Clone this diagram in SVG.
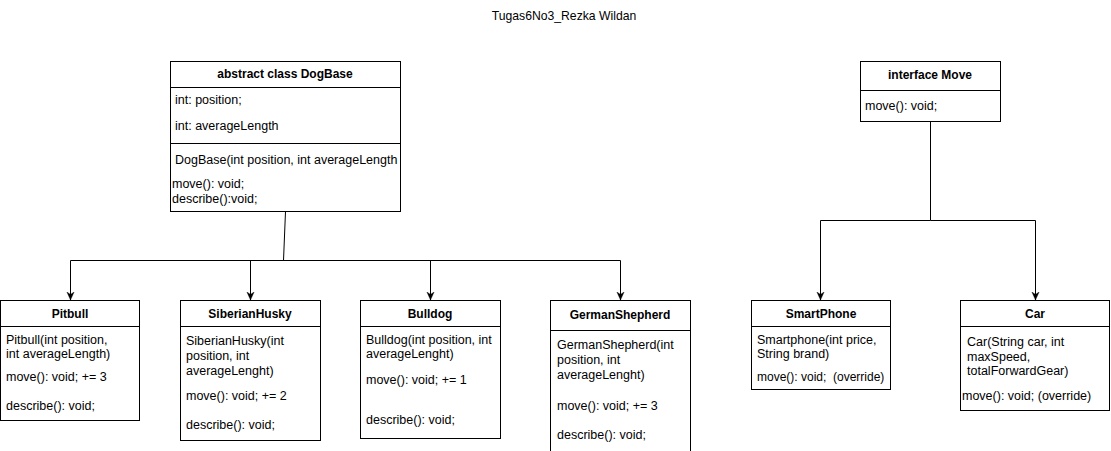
<svg xmlns="http://www.w3.org/2000/svg" width="1111" height="451" viewBox="0 0 1111 451">
<style>
  .box{fill:#fff;stroke:#000;stroke-width:1}
  .ln{stroke:#000;stroke-width:1;fill:none}
  text{font-family:"Liberation Sans",Arial,Helvetica,sans-serif;font-size:12.5px;fill:#000;white-space:pre}
  .t{font-weight:bold;text-anchor:middle;font-size:12px}
  .hd{font-size:12.2px}
  .edge{stroke:#000;stroke-width:1;fill:none;marker-end:url(#arr)}
</style>
<defs>
  <marker id="arr" viewBox="0 0 10 10" refX="10" refY="5" markerWidth="8" markerHeight="9" markerUnits="userSpaceOnUse" orient="auto">
    <path d="M0,0.5 L10,5 L0,9.5 L3,5 z" fill="#000" stroke="#000" stroke-width="0.5"/>
  </marker>
</defs>
<rect width="1111" height="451" fill="#fff"/>
<text class="hd" x="564" y="20" text-anchor="middle">Tugas6No3_Rezka Wildan</text>

<g id="connectors">
  <path class="ln" d="M285.5,211.5 L283.5,260.5"/>
  <path class="edge" d="M283.5,260.5 L70.5,260.5 L70.5,300"/>
  <path class="edge" d="M283.5,260.5 L250.5,260.5 L250.5,300"/>
  <path class="edge" d="M283.5,260.5 L430.5,260.5 L430.5,300"/>
  <path class="edge" d="M283.5,260.5 L620.5,260.5 L620.5,300"/>
  <path class="edge" d="M930.5,121 L930.5,220.5 L820.5,220.5 L820.5,300"/>
  <path class="edge" d="M930.5,220.5 L1035.5,220.5 L1035.5,300"/>
</g>

<g id="DogBase">
  <rect class="box" x="170.5" y="61.5" width="230" height="150"/>
  <line class="ln" x1="170.5" y1="87.5" x2="400.5" y2="87.5"/>
  <line class="ln" x1="170.5" y1="143.5" x2="400.5" y2="143.5"/>
  <text class="t" x="285" y="78">abstract class DogBase</text>
  <text x="175" y="104">int: position;</text>
  <text x="175" y="130">int: averageLength</text>
  <text x="175" y="164">DogBase(int position, int averageLength</text>
  <text x="172" y="188">move(): void;</text>
  <text x="172" y="203">describe():void;</text>
</g>

<g id="Move">
  <rect class="box" x="860.5" y="61.5" width="140" height="60"/>
  <line class="ln" x1="860.5" y1="90.5" x2="1000.5" y2="90.5"/>
  <text class="t" x="930" y="79">interface Move</text>
  <text x="865" y="110">move(): void;</text>
</g>

<g id="Pitbull">
  <rect class="box" x="0.5" y="300.5" width="139" height="120"/>
  <line class="ln" x1="0.5" y1="326.5" x2="139.5" y2="326.5"/>
  <text class="t" x="70" y="318">Pitbull</text>
  <text x="6" y="344">Pitbull(int position,</text>
  <text x="6" y="358">int averageLength)</text>
  <text x="6" y="381">move(): void; += 3</text>
  <text x="6" y="410">describe(): void;</text>
</g>

<g id="SiberianHusky">
  <rect class="box" x="180.5" y="300.5" width="140" height="140"/>
  <line class="ln" x1="180.5" y1="326.5" x2="320.5" y2="326.5"/>
  <text class="t" x="250" y="318">SiberianHusky</text>
  <text x="186" y="345">SiberianHusky(int</text>
  <text x="186" y="360">position, int</text>
  <text x="186" y="375">averageLenght)</text>
  <text x="186" y="400">move(): void; += 2</text>
  <text x="186" y="429">describe(): void;</text>
</g>

<g id="Bulldog">
  <rect class="box" x="360.5" y="300.5" width="140" height="138"/>
  <line class="ln" x1="360.5" y1="326.5" x2="500.5" y2="326.5"/>
  <text class="t" x="430" y="318">Bulldog</text>
  <text x="366" y="344">Bulldog(int position, int</text>
  <text x="366" y="358">averageLenght)</text>
  <text x="366" y="384">move(): void; += 1</text>
  <text x="366" y="424">describe(): void;</text>
</g>

<g id="GermanShepherd">
  <rect class="box" x="550.5" y="300.5" width="140" height="160"/>
  <line class="ln" x1="550.5" y1="330.5" x2="690.5" y2="330.5"/>
  <text class="t" x="620" y="319">GermanShepherd</text>
  <text x="557" y="349">GermanShepherd(int</text>
  <text x="557" y="364">position, int</text>
  <text x="557" y="379">averageLenght)</text>
  <text x="557" y="410">move(): void; += 3</text>
  <text x="557" y="439">describe(): void;</text>
</g>

<g id="SmartPhone">
  <rect class="box" x="751.5" y="300.5" width="139" height="89"/>
  <line class="ln" x1="751.5" y1="326.5" x2="890.5" y2="326.5"/>
  <text class="t" x="821" y="318">SmartPhone</text>
  <text x="757" y="344">Smartphone(int price,</text>
  <text x="757" y="358">String brand)</text>
  <text x="757" y="381" style="font-size:12px" xml:space="preserve">move(): void;  (override)</text>
</g>

<g id="Car">
  <rect class="box" x="960.5" y="300.5" width="149" height="110"/>
  <line class="ln" x1="960.5" y1="326.5" x2="1109.5" y2="326.5"/>
  <text class="t" x="1035" y="318">Car</text>
  <text x="967" y="346">Car(String car, int</text>
  <text x="967" y="361">maxSpeed,</text>
  <text x="967" y="375">totalForwardGear)</text>
  <text x="962" y="400">move(): void; (override)</text>
</g>
</svg>
